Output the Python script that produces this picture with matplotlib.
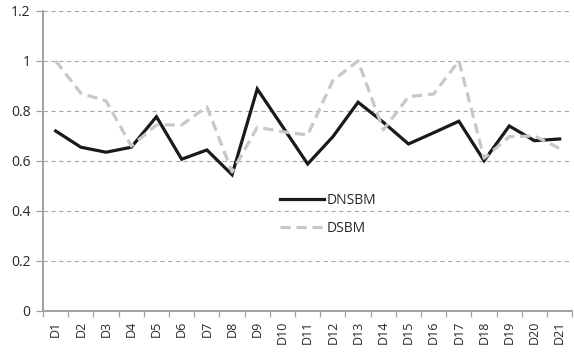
import matplotlib
matplotlib.use('Agg')
import matplotlib.pyplot as plt
import numpy as np

labels = ['D%d' % i for i in range(1, 22)]
dnsbm = [0.72, 0.655, 0.635, 0.655, 0.777, 0.607, 0.644, 0.545, 0.888, 0.738,
         0.588, 0.697, 0.835, 0.755, 0.668, 0.713, 0.759, 0.601, 0.740, 0.681, 0.688]
dsbm = [1.0, 0.871, 0.84, 0.66, 0.744, 0.744, 0.817, 0.556, 0.735, 0.717,
        0.704, 0.922, 1.0, 0.724, 0.857, 0.868, 1.0, 0.611, 0.697, 0.70, 0.65]

plt.rcParams['font.family'] = ['Open Sans', 'DejaVu Sans']

fig = plt.figure(figsize=(5.74, 3.53), dpi=100)
ax = fig.add_axes([0.075, 0.119, 0.922, 0.850])

x = np.arange(len(labels))
ax.plot(x, dnsbm, color='#1a1a1a', lw=2.3, label='DNSBM', solid_joinstyle='miter')
ax.plot(x, dsbm, color='#c8c8c8', lw=2.3, dashes=(3.2, 1.8), label='DSBM')

ax.set_xlim(-0.5, len(labels) - 0.5)
ax.set_ylim(0, 1.2)
ax.set_yticks(np.arange(0, 1.21, 0.2))
ax.set_yticklabels(['0', '0.2', '0.4', '0.6', '0.8', '1', '1.2'])
ax.yaxis.grid(True, color='#a6a6a6', linestyle=(0, (4, 3)), lw=0.8)
ax.set_axisbelow(True)

ax.set_xticks(x)
ax.set_xticklabels(labels, rotation=90)
ax.set_xticks(np.arange(-0.5, len(labels)), minor=True)
ax.tick_params(axis='x', which='major', length=0, pad=7, labelsize=9, labelcolor='#262626')
ax.tick_params(axis='x', which='minor', length=4, width=0.9, color='#a0a0a0', direction='out')
ax.tick_params(axis='y', length=5, width=0.9, color='#a0a0a0', pad=4, labelsize=10, labelcolor='#262626')

for s in ['top', 'right']:
    ax.spines[s].set_visible(False)
for s in ['left', 'bottom']:
    ax.spines[s].set_color('#a0a0a0')
    ax.spines[s].set_linewidth(1.4)

ax.legend(loc='center left', bbox_to_anchor=(0.425, 0.322), frameon=False,
          handlelength=3.1, handletextpad=0.25, labelspacing=0.95, fontsize=10,
          labelcolor='#262626')

fig.savefig('out.png', dpi=100)
